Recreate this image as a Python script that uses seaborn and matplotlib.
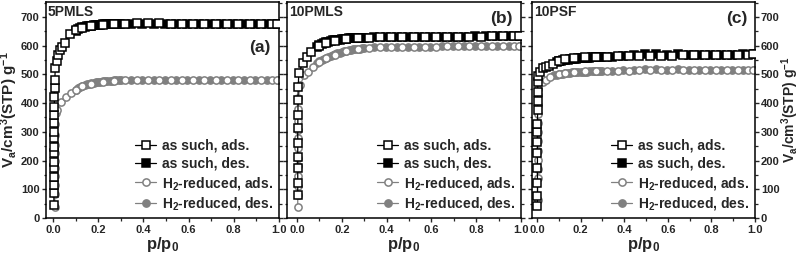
import matplotlib
matplotlib.use("Agg")
import matplotlib.pyplot as plt
import seaborn as sns
from matplotlib.ticker import MultipleLocator

# ---------------- data (p/p0, V cm3(STP)/g) ----------------
plateau_ads_p = [0.10, 0.13, 0.17, 0.22, 0.27, 0.32, 0.37, 0.42, 0.47, 0.52, 0.57, 0.62,
                 0.67, 0.72, 0.77, 0.82, 0.87, 0.92, 0.97, 0.99]
plateau_des_p = [0.345, 0.395, 0.445, 0.495, 0.545, 0.595, 0.645, 0.695, 0.745, 0.795,
                 0.845, 0.895, 0.945, 0.995]

# Panel (a) 5PMLS
a_ads_p = [0.004, 0.004, 0.004, 0.004, 0.004, 0.004, 0.004, 0.004, 0.004, 0.005, 0.005, 0.005,
           0.006, 0.006, 0.007, 0.008, 0.010, 0.016, 0.022, 0.031, 0.041, 0.052, 0.076] + plateau_ads_p
a_ads_v = [45, 86, 115, 144, 173, 196, 225, 248, 278, 301, 330, 359, 388, 423, 452, 481, 522,
           545, 568, 585, 597, 611, 640,
           655, 663, 669, 673, 675, 677, 678, 678, 678, 677, 677, 677, 677, 676, 676, 676, 675,
           675, 675, 674]
a_des_p = [0.10, 0.11, 0.12, 0.13, 0.14, 0.15, 0.16, 0.17, 0.18, 0.19, 0.20, 0.21, 0.22, 0.23,
           0.24, 0.25, 0.26, 0.27, 0.28, 0.29, 0.30] + plateau_des_p
a_des_v = [652, 657, 661, 664, 666, 668, 669, 670, 671, 672, 673, 673, 674, 674, 675, 675, 675,
           676, 676, 676, 676,
           677, 677, 677, 677, 677, 676, 676, 676, 676, 675, 675, 675, 674, 674]
a_h2_ads_p = [0.008, 0.008, 0.008, 0.008, 0.008, 0.008, 0.008, 0.009, 0.009, 0.010, 0.012,
              0.019, 0.037, 0.056, 0.078] + plateau_ads_p
a_h2_ads_v = [39, 82, 116, 145, 174, 197, 226, 255, 289, 329, 364, 376, 405, 420, 434,
              447, 458, 467, 474, 478, 480, 480, 481, 481, 481, 481, 481, 481, 480, 480, 480,
              480, 480, 480, 480]
a_h2_des_p = a_des_p
a_h2_des_v = [446, 451, 455, 459, 462, 465, 467, 469, 471, 472, 474, 475, 476, 477, 477, 478,
              478, 479, 479, 479, 480,
              480, 481, 481, 481, 481, 481, 481, 480, 480, 480, 480, 480, 480, 480]

# Panel (b) 10PMLS
b_ads_p = [0.003, 0.003, 0.003, 0.003, 0.003, 0.003, 0.004, 0.004, 0.005,
           0.008, 0.025, 0.043, 0.063] + plateau_ads_p
b_ads_v = [80, 121, 173, 214, 260, 313, 359, 411, 457, 506, 539, 559, 577,
           600, 609, 616, 622, 626, 628, 629, 629, 629, 630, 630, 630, 630, 631, 631, 631, 632,
           632, 633, 634]
b_des_p = [0.09, 0.10, 0.11, 0.12, 0.13, 0.14, 0.15, 0.16, 0.17, 0.18, 0.19, 0.20, 0.21, 0.22,
           0.23, 0.24, 0.25, 0.26, 0.27, 0.28, 0.29, 0.30] + plateau_des_p
b_des_v = [597, 602, 606, 609, 612, 614, 616, 618, 619, 620, 621, 622, 623, 624, 625, 625, 626,
           626, 627, 627, 627, 628,
           629, 629, 630, 630, 630, 630, 631, 631, 631, 632, 632, 633, 633, 634]
b_h2_ads_p = [0.003, 0.003, 0.003, 0.003, 0.003, 0.003, 0.004, 0.004, 0.004, 0.005, 0.005, 0.006,
              0.014, 0.033, 0.047, 0.070] + plateau_ads_p
b_h2_ads_v = [38, 80, 110, 145, 180, 209, 244, 279, 308, 337, 378, 418, 464, 498, 510, 527,
              542, 556, 568, 580, 588, 592, 594, 595, 596, 597, 597, 597, 598, 598, 598, 598,
              598, 598, 598, 598]
b_h2_des_p = b_des_p
b_h2_des_v = [539, 545, 550, 554, 558, 562, 565, 568, 571, 573, 576, 578, 580, 582, 584, 586,
              587, 588, 589, 590, 591, 592,
              594, 595, 596, 597, 597, 597, 598, 598, 598, 598, 598, 598, 598, 598]

# Panel (c) 10PSF
c_ads_p = [0.002, 0.002, 0.002, 0.002, 0.002, 0.002, 0.002, 0.002, 0.003, 0.003, 0.003, 0.004,
           0.006, 0.015, 0.026, 0.040, 0.055, 0.075] + plateau_ads_p
c_ads_v = [41, 76, 122, 173, 225, 266, 300, 329, 375, 409, 438, 472, 496, 509, 521, 524, 530,
           536,
           546, 552, 556, 559, 561, 562, 563, 563, 564, 564, 565, 565, 566, 566, 567, 567, 568,
           568, 569, 571]
c_des_p = b_des_p
c_des_v = [543, 545, 547, 549, 550, 551, 552, 553, 554, 555, 556, 556, 557, 557, 558, 558, 559,
           559, 560, 560, 560, 561,
           562, 563, 566, 570, 572, 568, 570, 566, 567, 567, 568, 569, 570, 572]
c_h2_ads_p = [0.003, 0.003, 0.003, 0.003, 0.003, 0.003, 0.003, 0.003, 0.003, 0.004, 0.004,
              0.006, 0.026, 0.040, 0.060] + plateau_ads_p
c_h2_ads_v = [62, 139, 170, 202, 235, 268, 300, 330, 363, 395, 427, 449, 472, 482, 490,
              500, 505, 508, 511, 512, 513, 513, 513, 514, 514, 514, 514, 515, 515, 515, 515,
              515, 515, 515, 515]
c_h2_des_p = [0.08] + b_des_p
c_h2_des_v = [497, 499, 501, 502, 503, 504, 505, 506, 507, 507, 508, 508, 509, 509, 510, 510,
              511, 511, 511, 512, 512, 512, 513,
              513, 514, 516, 520, 518, 516, 519, 517, 516, 515, 515, 515, 515, 515]

panels = [
    ("5PMLS", "(a)", (a_ads_p, a_ads_v), (a_des_p, a_des_v), (a_h2_ads_p, a_h2_ads_v),
     (a_h2_des_p, a_h2_des_v)),
    ("10PMLS", "(b)", (b_ads_p, b_ads_v), (b_des_p, b_des_v), (b_h2_ads_p, b_h2_ads_v),
     (b_h2_des_p, b_h2_des_v)),
    ("10PSF", "(c)", (c_ads_p, c_ads_v), (c_des_p, c_des_v), (c_h2_ads_p, c_h2_ads_v),
     (c_h2_des_p, c_h2_des_v)),
]
series_labels = ["as such, ads.", "as such, des.", "H$_2$-reduced, ads.", "H$_2$-reduced, des."]

# ---------------- style ----------------
sns.set_theme(style="ticks")
plt.rcParams["font.family"] = ["Liberation Sans", "DejaVu Sans"]
plt.rcParams["font.weight"] = "bold"
plt.rcParams["mathtext.fontset"] = "custom"
plt.rcParams["mathtext.rm"] = "Liberation Sans:bold"
plt.rcParams["mathtext.it"] = "Liberation Sans:bold"
plt.rcParams["mathtext.bf"] = "Liberation Sans:bold"
plt.rcParams["axes.linewidth"] = 1.1

BLACK = "#000000"
GREY = "#808080"

fig = plt.figure(figsize=(8, 2.54), dpi=100)
rects = [
    (46 / 800, 36 / 254, 233 / 800, 216 / 254),
    (287 / 800, 36 / 254, 234 / 800, 216 / 254),
    (532 / 800, 36 / 254, 223 / 800, 216 / 254),
]
xlims = [(-0.031, 1.0), (-0.045, 1.0), (-0.023, 1.0)]
title_y = [0.955, 0.955, 0.955]
tag_pos = [(0.965, 0.79), (0.965, 0.925), (0.965, 0.925)]
ylab = "V$_a$/cm$^3$(STP) g$^{-1}$"

ms = 5.2
for i, (name, tag, asa, asd, h2a, h2d) in enumerate(panels):
    ax = fig.add_axes(rects[i])
    specs = [
        (asa, BLACK, "s", "white", 4),
        (asd, BLACK, "s", BLACK, 3),
        (h2a, GREY, "o", "white", 2),
        (h2d, GREY, "o", GREY, 1),
    ]
    handles = []
    for (px, vy), col, mk, mfc, z, lab in [s + (l,) for s, l in zip(specs, series_labels)]:
        sns.lineplot(x=px, y=vy, ax=ax, color=col, marker=mk, markersize=ms,
                     markerfacecolor=mfc, markeredgecolor=col, markeredgewidth=1.1,
                     linewidth=0.9, sort=False, estimator=None, label=lab, zorder=z)
        handles.append(ax.lines[-1])
    ax.legend(handles=handles, labels=series_labels, loc="lower right", frameon=False,
              fontsize=10, handlelength=1.5, handletextpad=0.45, labelspacing=0.28,
              borderaxespad=0.2, borderpad=0.2)

    ax.set_xlim(*xlims[i])
    ax.set_ylim(0, 752)
    ax.xaxis.set_major_locator(MultipleLocator(0.2))
    ax.xaxis.set_minor_locator(MultipleLocator(0.1))
    ax.yaxis.set_major_locator(MultipleLocator(100))
    ax.yaxis.set_minor_locator(MultipleLocator(50))
    ax.xaxis.set_major_formatter(plt.FuncFormatter(lambda v, p: f"{v:.1f}"))
    ax.tick_params(axis="both", which="major", direction="out", length=3.2, width=1.0,
                   labelsize=8, pad=1.5)
    ax.tick_params(axis="both", which="minor", direction="out", length=1.8, width=0.9)
    ax.tick_params(axis="x", which="both", top=False, bottom=True)
    ax.tick_params(axis="y", which="both", left=True, right=True)
    ax.set_xlabel("p/p$_0$", fontsize=12, fontweight="bold", labelpad=0.3)

    if i == 0:
        ax.tick_params(axis="y", labelleft=True, labelright=False)
        ax.set_ylabel(ylab, fontsize=11, fontweight="bold", labelpad=0.5)
    elif i == 1:
        ax.tick_params(axis="y", labelleft=False, labelright=False)
        ax.set_ylabel("")
    else:
        ax.tick_params(axis="y", labelleft=False, labelright=True, pad=1.0)
        ax.yaxis.set_label_position("right")
        ax.set_ylabel(ylab, fontsize=10, fontweight="bold", labelpad=-0.3)

    ax.text(0.008, title_y[i], name, transform=ax.transAxes, fontsize=10, fontweight="bold",
            ha="left", va="center")
    ax.text(tag_pos[i][0], tag_pos[i][1], tag, transform=ax.transAxes, fontsize=12.5,
            fontweight="bold", ha="right", va="center")
    for sp in ax.spines.values():
        sp.set_visible(True)
        sp.set_linewidth(1.1)
        sp.set_color("black")

fig.savefig("out.png", dpi=100)
